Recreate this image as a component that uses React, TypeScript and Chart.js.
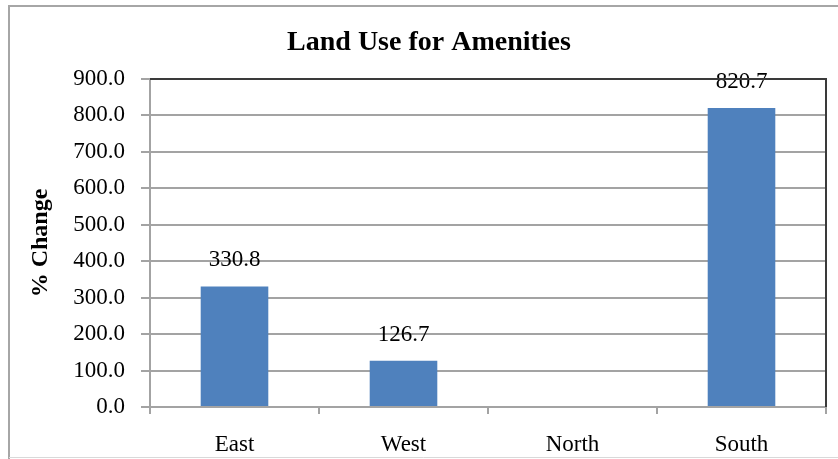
import React, { useEffect, useRef } from "react";
import { Chart, registerables } from "chart.js";

Chart.register(...registerables);

// Percentage change in land used for amenities, by region
const categories = ["East", "West", "North", "South"];
const percentChange: (number | null)[] = [330.8, 126.7, null, 820.7];
const yTickValues = [0, 100, 200, 300, 400, 500, 600, 700, 800, 900];

const chartTitle = "Land Use for Amenities";
const yAxisTitle = "% Change";

const SERIF = "'Liberation Serif', 'Times New Roman', serif";
const BAR_BLUE = "#4f81bd";
const GRID_GREY = "#a3a3a3";

// White page with the light grey frame around the whole chart
const framePlugin = {
  id: "outerFrame",
  beforeDraw(chart: Chart) {
    const { ctx, width, height } = chart;
    ctx.save();
    ctx.fillStyle = "#ffffff";
    ctx.fillRect(0, 0, width, height);
    ctx.strokeStyle = "#a6a6a6";
    ctx.lineWidth = 2;
    ctx.beginPath();
    ctx.moveTo(9, height);
    ctx.lineTo(9, 6);
    ctx.lineTo(width, 6);
    ctx.stroke();
    ctx.strokeStyle = "#d9d9d9";
    ctx.lineWidth = 1;
    ctx.beginPath();
    ctx.moveTo(9, height - 1.5);
    ctx.lineTo(width, height - 1.5);
    ctx.stroke();
    ctx.restore();
  },
};

// Dark edge along the top and right of the plot area
const plotEdgePlugin = {
  id: "plotEdge",
  afterDraw(chart: Chart) {
    const { ctx, chartArea } = chart;
    ctx.save();
    ctx.strokeStyle = "#3a3a3a";
    ctx.lineWidth = 2;
    ctx.beginPath();
    ctx.moveTo(chartArea.left, chartArea.top);
    ctx.lineTo(chartArea.right, chartArea.top);
    ctx.lineTo(chartArea.right, chartArea.bottom);
    ctx.stroke();
    ctx.restore();
  },
};

// Value written above each bar
const valueLabelPlugin = {
  id: "valueLabels",
  afterDatasetsDraw(chart: Chart) {
    const { ctx } = chart;
    const meta = chart.getDatasetMeta(0);
    ctx.save();
    ctx.font = `23px ${SERIF}`;
    ctx.fillStyle = "#000000";
    ctx.textAlign = "center";
    ctx.textBaseline = "middle";
    meta.data.forEach((bar: any, i: number) => {
      const v = percentChange[i];
      if (v == null) return;
      ctx.fillText(v.toFixed(1), bar.x, bar.y - 26);
    });
    ctx.restore();
  },
};

export default function App() {
  const canvasRef = useRef<HTMLCanvasElement | null>(null);

  useEffect(() => {
    const canvas = canvasRef.current;
    if (!canvas) return;
    const chart = new Chart(canvas, {
      type: "bar",
      data: {
        labels: categories,
        datasets: [
          {
            label: yAxisTitle,
            data: percentChange,
            backgroundColor: BAR_BLUE,
            borderWidth: 0,
            categoryPercentage: 1,
            barPercentage: 0.4,
          },
        ],
      },
      options: {
        responsive: false,
        animation: false,
        devicePixelRatio: 1,
        layout: { padding: { left: 32, right: 12, top: 0, bottom: 0 } },
        plugins: {
          legend: { display: false },
          tooltip: { enabled: false },
          title: {
            display: true,
            text: chartTitle,
            color: "#000000",
            font: { family: SERIF, size: 28, weight: "bold" },
            padding: { top: 26, bottom: 19.4 },
          },
        },
        scales: {
          x: {
            offset: true,
            grid: {
              offset: true,
              drawOnChartArea: false,
              drawTicks: true,
              tickLength: 7,
              color: GRID_GREY,
              lineWidth: 2,
            },
            border: { display: true, color: GRID_GREY, width: 2 },
            ticks: {
              color: "#000000",
              font: { family: SERIF, size: 23 },
              padding: 17,
              maxRotation: 0,
            },
            afterFit(scale: any) {
              scale.height = 52;
            },
          },
          y: {
            min: 0,
            max: 900,
            grid: {
              color: GRID_GREY,
              lineWidth: 2,
              drawTicks: true,
              tickLength: 9,
            },
            border: { display: true, color: GRID_GREY, width: 2 },
            ticks: {
              color: "#000000",
              font: { family: SERIF, size: 23 },
              padding: 16,
              callback: (v: any) => Number(v).toFixed(1),
            },
            afterBuildTicks(scale: any) {
              scale.ticks = yTickValues.map((value) => ({ value }));
            },
            afterFit(scale: any) {
              scale.width = 118;
            },
            title: {
              display: true,
              text: yAxisTitle,
              color: "#000000",
              font: { family: SERIF, size: 24, weight: "bold" },
              padding: { top: -6, bottom: 0 },
            },
          },
        },
      },
      plugins: [framePlugin, plotEdgePlugin, valueLabelPlugin],
    });
    return () => chart.destroy();
  }, []);

  return (
    <canvas
      ref={canvasRef}
      width={838}
      height={459}
      style={{ position: "fixed", left: 0, top: 0, width: 838, height: 459 }}
    />
  );
}
